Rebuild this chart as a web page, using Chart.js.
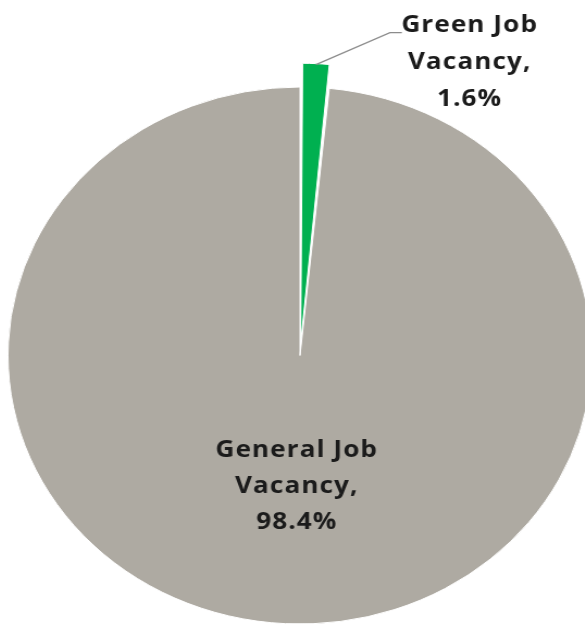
<!DOCTYPE html>
<html>
<head>
<meta charset="utf-8">
<script src="https://cdn.jsdelivr.net/npm/chart.js@4/dist/chart.umd.min.js"></script>
<style>
  html, body { margin: 0; padding: 0; background: #fff; overflow: hidden; }
  #wrap {
    position: absolute; left: 0; top: 0; width: 585px; height: 626px;
    /* the reference pie is stretched sideways */
    transform: scaleX(1.0875); transform-origin: 300px 355px;
  }
</style>
</head>
<body>
<div id="wrap"><canvas id="chart" width="585" height="626"></canvas></div>
<script>
// Daten
const categories = ['Green Job Vacancy', 'General Job Vacancy'];
const shares = [1.6, 98.4];
const sliceColors = ['#00B050', '#AEAAA2'];
const sliceOffsets = [50, 0];

// Beschriftungen im Excel-Stil: Name, Wert in drei Zeilen
const labelPlugin = {
  id: 'sliceLabels',
  afterDatasetsDraw(chart) {
    const ctx = chart.ctx;
    const arcs = chart.getDatasetMeta(0).data;
    const green = arcs[0];
    const grey = arcs[1];
    const cx = grey.x, cy = grey.y;

    ctx.save();
    ctx.font = 'bold 24px "Open Sans"';
    ctx.letterSpacing = '1px';
    ctx.fillStyle = '#1b1b1b';
    ctx.textAlign = 'center';
    ctx.textBaseline = 'middle';

    // Führungslinie vom grünen Segment zum Label
    const mid = (green.startAngle + green.endAngle) / 2;
    const shift = green.options.offset / 4 * (2 - Math.sin(green.circumference));
    const sx = green.x + Math.cos(mid) * (green.outerRadius + shift);
    const sy = green.y + Math.sin(mid) * (green.outerRadius + shift);
    ctx.strokeStyle = '#8c8c8c';
    ctx.lineWidth = 1.2;
    ctx.beginPath();
    ctx.moveTo(sx, sy + 1);
    ctx.lineTo(sx + 68, sy - 31);
    ctx.lineTo(sx + 79, sy - 31);
    ctx.stroke();

    const gLines = ['Green Job', 'Vacancy,', shares[0].toFixed(1) + '%'];
    gLines.forEach((t, i) => ctx.fillText(t, cx + 156, cy - 330 + i * 37));

    const lLines = ['General Job', 'Vacancy,', shares[1].toFixed(1) + '%'];
    lLines.forEach((t, i) => ctx.fillText(t, cx - 3, cy + 95 + i * 36));
    ctx.restore();
  }
};

new Chart(document.getElementById('chart'), {
  type: 'pie',
  data: {
    labels: categories,
    datasets: [{
      data: shares,
      backgroundColor: sliceColors,
      borderColor: '#ffffff',
      borderWidth: 1,
      offset: sliceOffsets
    }]
  },
  options: {
    responsive: false,
    animation: false,
    radius: 268.5,
    layout: { padding: { left: 15, right: 0, top: 85, bottom: 0 } },
    plugins: {
      legend: { display: false },
      tooltip: { enabled: false }
    }
  },
  plugins: [labelPlugin]
});
</script>
</body>
</html>
